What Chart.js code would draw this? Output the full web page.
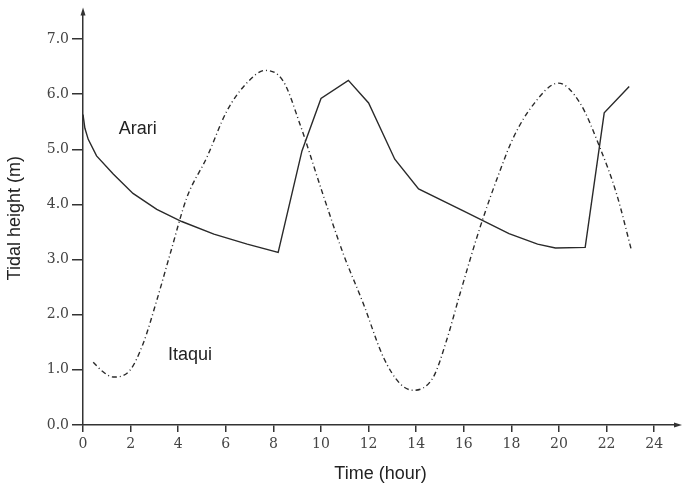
<!DOCTYPE html>
<html>
<head>
<meta charset="utf-8">
<script src="https://cdn.jsdelivr.net/npm/chart.js@4.4.1/dist/chart.umd.min.js"></script>
<style>
  html, body { margin: 0; padding: 0; background: #fff; }
  #wrap { width: 682px; height: 493px; }
</style>
</head>
<body>
<div id="wrap"><canvas id="tideChart"></canvas></div>
<script>
// tide readings, hour of day vs height in metres
const arariHours  = [0, 0.08, 0.22, 0.57, 1.27, 2.1, 3.1, 4.15, 5.5, 6.9, 8.2, 9.2, 10.0, 11.15, 12.0, 13.1, 14.1, 16.0, 17.9, 19.1, 19.85, 21.1, 21.9, 22.95];
const arariHeight = [5.63, 5.38, 5.18, 4.88, 4.55, 4.2, 3.91, 3.69, 3.46, 3.28, 3.13, 4.97, 5.92, 6.25, 5.84, 4.82, 4.28, 3.88, 3.47, 3.28, 3.21, 3.22, 5.66, 6.14];

const itaquiHours  = [0.43, 0.8, 1.27, 1.97, 2.53, 3.1, 3.66, 4.36, 5.2, 6.04, 6.88, 7.65, 8.42, 9.12, 10.03, 10.94, 11.78, 12.62, 13.32, 13.88, 14.72, 15.28, 15.84, 16.68, 17.52, 18.08, 18.92, 19.97, 20.88, 21.72, 22.42, 23.05];
const itaquiHeight = [1.14, 0.98, 0.87, 0.99, 1.48, 2.26, 3.10, 4.12, 4.85, 5.69, 6.20, 6.43, 6.23, 5.45, 4.25, 3.10, 2.20, 1.23, 0.75, 0.63, 0.87, 1.54, 2.38, 3.58, 4.61, 5.21, 5.81, 6.20, 5.84, 5.03, 4.19, 3.16];

const xTicks = [0, 2, 4, 6, 8, 10, 12, 14, 16, 18, 20, 22, 24];
const yTicks = [0, 1, 2, 3, 4, 5, 6, 7];

const seriesNames = ['Arari', 'Itaqui'];

const ink = '#333';

function pairs(xs, ys) {
    return xs.map((x, i) => ({ x: x, y: ys[i] }));
}

// draws the arrow ends of the axes and the in-plot series names
const decorations = {
    id: 'decorations',
    afterDraw(chart) {
        const ctx = chart.ctx;
        const a = chart.chartArea;
        const xs = chart.scales.x, ys = chart.scales.y;
        ctx.save();
        ctx.fillStyle = ink;
        // y arrow
        ctx.beginPath();
        ctx.moveTo(a.left, a.top - 4);
        ctx.lineTo(a.left - 2.5, a.top + 4);
        ctx.lineTo(a.left + 2.5, a.top + 4);
        ctx.closePath();
        ctx.fill();
        // x arrow
        ctx.beginPath();
        ctx.moveTo(a.right + 4, a.bottom);
        ctx.lineTo(a.right - 4, a.bottom - 2.5);
        ctx.lineTo(a.right - 4, a.bottom + 2.5);
        ctx.closePath();
        ctx.fill();

        ctx.font = '18px "Liberation Sans", Arial, sans-serif';
        ctx.fillStyle = '#222';
        ctx.textAlign = 'center';
        ctx.textBaseline = 'middle';
        ctx.fillText(seriesNames[0], xs.getPixelForValue(2.3), ys.getPixelForValue(5.37));
        ctx.fillText(seriesNames[1], xs.getPixelForValue(4.5), ys.getPixelForValue(1.27));
        ctx.restore();
    }
};

new Chart(document.getElementById('tideChart'), {
    type: 'line',
    data: {
        datasets: [{
            label: seriesNames[0],
            data: pairs(arariHours, arariHeight),
            borderColor: '#2a2a2a',
            borderWidth: 1.4,
            pointRadius: 0,
            tension: 0
        }, {
            label: seriesNames[1],
            data: pairs(itaquiHours, itaquiHeight),
            borderColor: '#2a2a2a',
            borderWidth: 1.4,
            borderDash: [5, 3, 1, 3],
            pointRadius: 0,
            cubicInterpolationMode: 'monotone'
        }]
    },
    options: {
        responsive: true,
        maintainAspectRatio: false,
        animation: false,
        layout: { padding: { left: 0, right: 4, top: 10, bottom: 0 } },
        plugins: {
            legend: { display: false },
            tooltip: { enabled: false }
        },
        scales: {
            x: {
                type: 'linear',
                min: 0,
                max: 25,
                afterBuildTicks: s => { s.ticks = xTicks.map(v => ({ value: v })); },
                afterFit: s => { s.height = 68; },
                border: { color: ink, width: 1.5 },
                grid: { drawOnChartArea: false, drawTicks: true, tickLength: 7, color: ink, lineWidth: 1.5 },
                ticks: {
                    padding: 4,
                    color: '#444',
                    font: { family: '"DejaVu Serif", serif', size: 14 },
                    maxRotation: 0
                },
                title: {
                    display: true,
                    text: 'Time (hour)',
                    color: '#222',
                    font: { family: '"Liberation Sans", Arial, sans-serif', size: 18 },
                    padding: { top: 0, bottom: 8 }
                }
            },
            y: {
                type: 'linear',
                min: 0,
                max: 7.5,
                afterBuildTicks: s => { s.ticks = yTicks.map(v => ({ value: v })); },
                afterFit: s => { s.width = 83; },
                border: { color: ink, width: 1.5 },
                grid: { drawOnChartArea: false, drawTicks: true, tickLength: 11, color: ink, lineWidth: 1.5 },
                ticks: {
                    padding: 3,
                    color: '#444',
                    font: { family: '"DejaVu Serif", serif', size: 14 },
                    callback: v => v.toFixed(1)
                },
                title: {
                    display: true,
                    text: 'Tidal height (m)',
                    color: '#222',
                    font: { family: '"Liberation Sans", Arial, sans-serif', size: 18 },
                    padding: { top: 4, bottom: 0 }
                }
            }
        }
    },
    plugins: [decorations]
});
</script>
</body>
</html>
